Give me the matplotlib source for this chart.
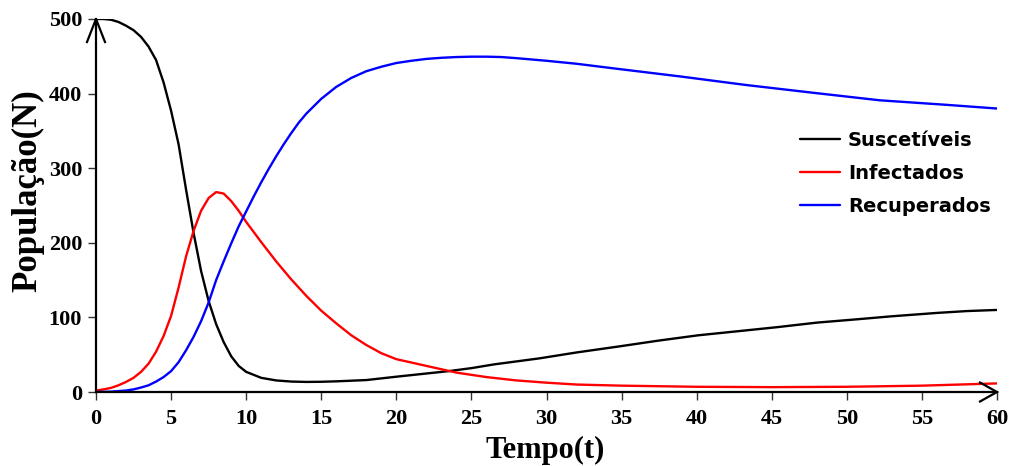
import matplotlib
matplotlib.use("Agg")
import matplotlib.pyplot as plt

# Modelo SIR: populações ao longo do tempo
t_s = [0, 0.5, 1.0, 1.5, 2.0, 2.5, 3.0, 3.5, 4.0, 4.5, 5.0, 5.5, 6.0, 6.5, 7.0,
       7.5, 8.0, 8.5, 9.0, 9.5, 10, 11, 12, 13, 14, 15, 16, 18, 20, 23.5, 25,
       26.5, 29.5, 32, 34.8, 37.5, 40.1, 43, 45.4, 48, 50.7, 53, 56, 58, 60]
suscetiveis = [500, 500, 499, 496, 491, 485, 476, 463, 445, 415, 377, 332, 271, 213, 162,
               122, 91, 67, 48, 35, 27, 19, 15.5, 14, 13.5, 13.7, 14.3, 16, 20.5, 28, 32,
               37, 45, 53, 61, 69, 76, 82, 87, 93, 97.5, 101.5, 106, 108.5, 110]

t_i = [0, 0.5, 1.0, 1.5, 2.0, 2.5, 3.0, 3.5, 4.0, 4.5, 5.0, 5.5, 6.0, 6.5, 7.0,
       7.5, 8.0, 8.5, 9.0, 9.5, 10, 11, 12, 13, 14, 15, 16, 17, 18, 19, 20,
       22, 24, 26, 28, 30, 32, 35, 40, 45, 50, 55, 60]
infectados = [2, 3.5, 5.5, 9, 13.5, 19, 27, 38, 54, 75, 102, 140, 182, 216, 243,
              260, 268, 266, 256, 243, 228, 201, 175, 151, 129, 109, 92, 76, 63, 52, 44,
              35, 26, 20, 15.5, 12.5, 10, 8.5, 7, 6.5, 7, 8.5, 11.5]

t_r = [0, 1.0, 2.0, 2.5, 3.0, 3.5, 4.0, 4.5, 5.0, 5.5, 6.0, 6.5, 7.0, 7.5, 8.0,
       8.5, 9.0, 9.5, 10, 10.5, 11, 11.5, 12, 12.5, 13, 13.5, 14, 15, 16, 17, 18,
       19, 20, 21, 22, 23, 24, 25, 26, 27, 28, 30, 32, 34.4, 38.9, 43.3, 47.8,
       52.2, 56.6, 60]
recuperados = [0, 0.5, 2, 3.5, 6, 9, 14, 20, 28, 40, 56, 74, 95, 120, 150,
               175, 199, 222, 242, 262, 281, 299, 316, 332, 347, 361, 373, 393, 409, 421, 430,
               436, 441, 444, 446.5, 448, 449, 449.5, 449.5, 449, 447.5, 444, 440, 434, 423, 411.5, 401,
               391, 385, 380]

x_ticks = list(range(0, 61, 5))
y_ticks = [0, 100, 200, 300, 400, 500]

W, H = 1011, 466
fig = plt.figure(figsize=(W / 100, H / 100), dpi=100)
ax = fig.add_axes([96 / W, 1 - 392 / H, 901 / W, 373 / H])

style = dict(lw=1.7, solid_joinstyle="round", solid_capstyle="round")
ax.plot(t_s, suscetiveis, color="black", label="Suscetíveis", **style)
ax.plot(t_i, infectados, color="#ff0000", label="Infectados", **style)
ax.plot(t_r, recuperados, color="#0000ff", label="Recuperados", **style)

ax.set_xlim(0, 60)
ax.set_ylim(0, 500)
ax.set_xticks(x_ticks)
ax.set_yticks(y_ticks)

for side in ("top", "right"):
    ax.spines[side].set_visible(False)
for side in ("left", "bottom"):
    ax.spines[side].set_linewidth(1.6)
    ax.spines[side].set_color("black")

serif = {"family": "Liberation Serif", "weight": "bold"}
ax.tick_params(direction="out", length=6, width=1.0, color="#333333", pad=4)
for lab in ax.get_xticklabels() + ax.get_yticklabels():
    lab.set_fontfamily("Liberation Serif")
    lab.set_fontweight("bold")
    lab.set_fontsize(16)
ax.tick_params(axis="x", pad=6)

# chevron arrow heads at the axis ends
x0, x1 = ax.get_xlim()
y0, y1 = ax.get_ylim()
px_x = 901 / (x1 - x0)
px_y = 373 / (y1 - y0)
ax.plot([x1 - 17 / px_x, x1, x1 - 17 / px_x], [y0 + 9.5 / px_y, y0, y0 - 9.5 / px_y],
        color="black", lw=1.6, clip_on=False, solid_joinstyle="miter", zorder=5)
ax.plot([x0 - 9 / px_x, x0, x0 + 9 / px_x], [y1 - 23 / px_y, y1, y1 - 23 / px_y],
        color="black", lw=1.6, clip_on=False, solid_joinstyle="miter", zorder=5)

fig.text(545 / W, 1 - 450 / H, "Tempo(t)", ha="center", va="center", fontsize=22, **serif)
fig.text(28 / W, 1 - 191 / H, "População(N)", ha="center", va="center", rotation=90,
         fontsize=25, **serif)

leg = ax.legend(loc="upper left", bbox_to_anchor=(800 / W, 1 - 131 / H),
                bbox_transform=fig.transFigure, frameon=False, borderpad=0,
                borderaxespad=0, handlelength=2.05, handletextpad=0.42,
                labelspacing=0.72, prop={"family": "DejaVu Sans", "weight": "bold", "size": 14})

fig.savefig("out.png", dpi=100)
